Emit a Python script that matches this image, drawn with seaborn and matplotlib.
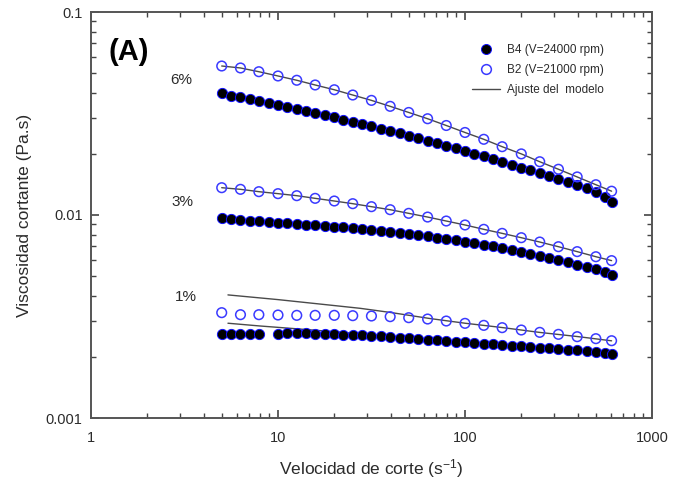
import numpy as np
import pandas as pd
import matplotlib
matplotlib.use("Agg")
import matplotlib.pyplot as plt
import seaborn as sns
from matplotlib.lines import Line2D
from matplotlib.ticker import NullFormatter

# shear rate (1/s) for the dense B4 series and the sparse B2 series
rate_b4 = [5.0, 5.6, 6.3, 7.1, 7.9, 8.9, 10, 11.2, 12.6, 14.1, 15.8, 17.8, 20, 22.4, 25.1,
           28.2, 31.6, 35.5, 39.8, 44.7, 50, 56.2, 63.1, 70.8, 79.4, 89.1, 100, 112, 126,
           141, 158, 178, 200, 224, 251, 282, 316, 355, 398, 447, 501, 562, 608]
rate_b2 = [5.0, 6.3, 7.9, 10, 12.6, 15.8, 20, 25.1, 31.6, 39.8, 50, 63.1, 79.4, 100, 126,
           158, 200, 251, 316, 398, 501, 608]

# viscosity (Pa.s)
b4_6 = [0.03974, 0.03871, 0.03799, 0.03714, 0.03630, 0.03548, 0.03468, 0.03391, 0.03315,
        0.03240, 0.03167, 0.03097, 0.03027, 0.02948, 0.02871, 0.02807, 0.02734, 0.02662,
        0.02593, 0.02525, 0.02459, 0.02394, 0.02323, 0.02262, 0.02195, 0.02130, 0.02066,
        0.02005, 0.01945, 0.01887, 0.01824, 0.01770, 0.01711, 0.01660, 0.01605, 0.01551,
        0.01498, 0.01449, 0.01400, 0.01353, 0.01303, 0.01231, 0.01163]
b2_6 = [0.0542, 0.0530, 0.0508, 0.0484, 0.0461, 0.0437, 0.0414, 0.0390, 0.0367, 0.0343,
        0.0320, 0.0298, 0.0276, 0.0255, 0.0236, 0.0217, 0.0200, 0.0183, 0.0168, 0.0154,
        0.0141, 0.0131]
b4_3 = [0.009703, 0.009557, 0.009450, 0.009379, 0.009307, 0.009237, 0.009168, 0.009099,
        0.009030, 0.008962, 0.008895, 0.008828, 0.008761, 0.008695, 0.008630, 0.008531,
        0.008435, 0.008341, 0.008247, 0.008153, 0.008062, 0.007940, 0.007850, 0.007730,
        0.007615, 0.007500, 0.007388, 0.007278, 0.007142, 0.007007, 0.006876, 0.006747,
        0.006596, 0.006448, 0.006300, 0.006163, 0.006003, 0.005846, 0.005693, 0.005543,
        0.005399, 0.005219, 0.005044]
b2_3 = [0.01363, 0.01338, 0.01303, 0.01274, 0.01245, 0.01208, 0.01172, 0.01137, 0.01099,
        0.01062, 0.01019, 0.00977, 0.00934, 0.00893, 0.00850, 0.00812, 0.00773, 0.00736,
        0.00698, 0.00660, 0.00623, 0.00596]
b4_1 = [0.002583, 0.002583, 0.002583, 0.002583, 0.002583, np.nan, 0.002603, 0.002613,
        0.002613, 0.002613, 0.002603, 0.002593, 0.002583, 0.002573, 0.002564, 0.002554,
        0.002545, 0.002525, 0.002506, 0.002487, 0.002468, 0.002449, 0.002431, 0.002412,
        0.002394, 0.002376, 0.002358, 0.002340, 0.002323, 0.002305, 0.002288, 0.002270,
        0.002253, 0.002236, 0.002219, 0.002203, 0.002186, 0.002170, 0.002154, 0.002138,
        0.002114, 0.002082, 0.002058]
b2_1 = [0.003303, 0.003228, 0.003228, 0.003216, 0.003204, 0.003204, 0.003204, 0.003192,
        0.003180, 0.003156, 0.003120, 0.003073, 0.003004, 0.002926, 0.002860, 0.002786,
        0.002713, 0.002642, 0.002583, 0.002515, 0.002459, 0.002403]

# model fits at 1 % (the 3 % and 6 % fits run through the B2 points)
fit_rate_b2_1 = [5.4, 10, 20, 27.5, 40, 65, 100, 158, 251, 398, 608]
fit_b2_1 = [0.00404, 0.00383, 0.00358, 0.00347, 0.00331, 0.00309, 0.00293, 0.00279,
            0.00264, 0.00252, 0.00240]
fit_rate_b4_1 = [5.4, 8, 12, 20, 40, 100, 200, 400, 608]
fit_b4_1 = [0.00293, 0.00284, 0.00276, 0.00266, 0.00252, 0.00236, 0.00225, 0.00215, 0.00206]

conc_labels = ["6%", "3%", "1%"]
x_ticks = [1, 10, 100, 1000]
x_ticklabels = ["1", "10", "100", "1000"]
y_ticks = [0.001, 0.01, 0.1]
y_ticklabels = ["0.001", "0.01", "0.1"]

sns.set_style("ticks")
plt.rcParams["font.family"] = ["Liberation Sans", "DejaVu Sans"]
plt.rcParams["mathtext.fontset"] = "custom"
plt.rcParams["mathtext.rm"] = "Liberation Sans"
plt.rcParams["mathtext.it"] = "Liberation Sans:italic"

BLUE = "#3a3aff"
TXT = "#2b2b2b"

fig = plt.figure(figsize=(6.73, 4.91), dpi=100)
ax = fig.add_axes([91 / 673, 1 - 418 / 491, 561 / 673, 406 / 491])

fits = [(rate_b2, b2_6), (rate_b2, b2_3), (fit_rate_b2_1, fit_b2_1), (fit_rate_b4_1, fit_b4_1)]
for fx, fy in fits:
    sns.lineplot(x=fx, y=fy, ax=ax, color="#4a4a4a", linewidth=1.0, zorder=2, sort=False)

for yy in [b4_6, b4_3, b4_1]:
    d = pd.DataFrame({"rate": rate_b4, "visc": yy}).dropna()
    sns.scatterplot(data=d, x="rate", y="visc", ax=ax, marker="o", s=54,
                    color="black", edgecolor="#1010ff", linewidth=0.7, zorder=3)
for yy in [b2_6, b2_3, b2_1]:
    d = pd.DataFrame({"rate": rate_b2, "visc": yy})
    sns.scatterplot(data=d, x="rate", y="visc", ax=ax, marker="o", s=48,
                    facecolor="none", edgecolor=BLUE, linewidth=1.1, zorder=3)

ax.set_xscale("log")
ax.set_yscale("log")
ax.set_xlim(1, 1000)
ax.set_ylim(0.001, 0.1)
ax.set_xticks(x_ticks)
ax.set_xticklabels(x_ticklabels)
ax.set_yticks(y_ticks)
ax.set_yticklabels(y_ticklabels)
ax.xaxis.set_minor_formatter(NullFormatter())
ax.yaxis.set_minor_formatter(NullFormatter())
ax.tick_params(which="both", direction="in", top=True, right=True, color="#444444",
               labelcolor=TXT, labelsize=10.5)
ax.tick_params(which="major", length=6, width=1.2)
ax.tick_params(which="minor", length=3.5, width=1.0)
ax.tick_params(axis="x", pad=9)
ax.tick_params(axis="y", pad=6)
for sp in ax.spines.values():
    sp.set_color("#555555")
    sp.set_linewidth(1.4)

ax.set_xlabel("Velocidad de corte (s$^{-1}$)", fontsize=12.5, color=TXT, labelpad=9)
ax.set_ylabel("Viscosidad cortante (Pa.s)", fontsize=12.5, color=TXT, labelpad=10)

ax.text(128.7 / 673, 1 - 52 / 491, "(A)", transform=fig.transFigure, fontsize=21,
        fontweight="bold", color="black", ha="center", va="center")
for lab, (px, py) in zip(conc_labels, [(181.5, 80), (182, 201.7), (186, 296.7)]):
    ax.text(px / 673, 1 - py / 491, lab, transform=fig.transFigure, fontsize=11,
            color=TXT, ha="center", va="center")

handles = [
    Line2D([], [], marker="o", ls="none", mfc="black", mec="#1010ff", mew=0.7, ms=7.2),
    Line2D([], [], marker="o", ls="none", mfc="none", mec=BLUE, mew=1.1, ms=7),
    Line2D([], [], color="#4a4a4a", lw=1.0),
]
labels = ["B4 (V=24000 rpm)", "B2 (V=21000 rpm)", "Ajuste del  modelo"]
ax.legend(handles, labels, loc="upper left", bbox_to_anchor=((471.7 - 91) / 561, 1 - (44 - 12) / 406),
          frameon=False, fontsize=8.5, borderpad=0, borderaxespad=0, handlelength=2.4,
          handletextpad=0.6, labelspacing=0.68, labelcolor=TXT)

fig.savefig("out.png", dpi=100)
